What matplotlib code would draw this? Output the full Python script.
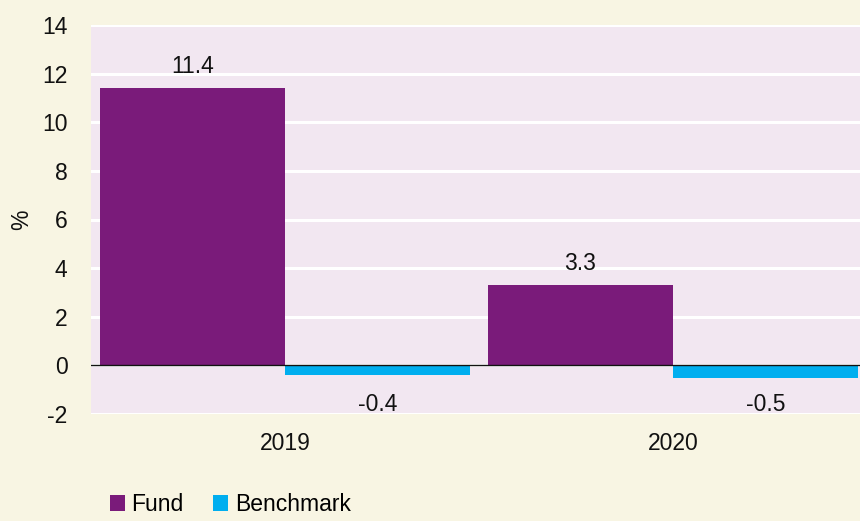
import matplotlib
matplotlib.use("Agg")
import matplotlib.pyplot as plt
from matplotlib.patches import Patch
import numpy as np

plt.rcParams['font.family'] = ['Liberation Sans', 'DejaVu Sans']

categories = ["2019", "2020"]
series_names = ["Fund", "Benchmark"]
fund = [11.4, 3.3]
benchmark = [-0.4, -0.5]
yticks = [-2, 0, 2, 4, 6, 8, 10, 12, 14]

purple = "#7a1b7a"
cyan = "#00aeef"
plot_bg = "#f2e7f1"
outer_bg = "#f8f5e3"
fs = 16.5

fig = plt.figure(figsize=(8.6, 5.21), dpi=100, facecolor=outer_bg)
ax = fig.add_axes([91/860, (521-414)/521, 1 - 91/860, (414-25)/521])
ax.set_facecolor(plot_bg)

x = np.arange(len(categories))
w = 185/388
b1 = ax.bar(x - w/2, fund, width=w, color=purple, zorder=3)
b2 = ax.bar(x + w/2, benchmark, width=w, color=cyan, zorder=3)

ax.set_xlim(-0.5, (860-285)/388)
ax.set_ylim(-2, 14)
ax.set_yticks(yticks)
ax.set_yticklabels([str(t) for t in yticks])
ax.set_xticks(x)
ax.set_xticklabels(categories)
ax.tick_params(axis='both', length=0, labelsize=fs, colors='#111111')
ax.tick_params(axis='y', pad=17)
ax.tick_params(axis='x', pad=13)
for s in ax.spines.values():
    s.set_visible(False)
ax.grid(axis='y', color='white', linewidth=2.2, zorder=1)
ax.set_axisbelow(True)
ax.axhline(0, color='#111111', linewidth=1.0, zorder=4)

for bars, vals in ((b1, fund), (b2, benchmark)):
    for rect, v in zip(bars, vals):
        cx = rect.get_x() + rect.get_width()/2
        if v >= 0:
            ax.annotate(f"{v:.1f}", (cx, v), xytext=(0, 7), textcoords='offset points',
                        ha='center', va='bottom', fontsize=fs, color='#111111')
        else:
            ax.annotate(f"{v:.1f}", (cx, 0), xytext=(0, -20), textcoords='offset points',
                        ha='center', va='top', fontsize=fs, color='#111111')

fig.text(22/860, 1 - 220/521, "%", rotation=90, ha='center', va='center',
         fontsize=fs, color='#111111')

handles = [Patch(facecolor=purple), Patch(facecolor=cyan)]
fig.legend(handles, series_names, loc='lower left', bbox_to_anchor=(89/860, -0.03),
           ncol=2, frameon=False, fontsize=fs, handlelength=0.65, handleheight=0.65,
           handletextpad=0.3, columnspacing=1.3)

fig.savefig("out.png", dpi=100, facecolor=outer_bg)
